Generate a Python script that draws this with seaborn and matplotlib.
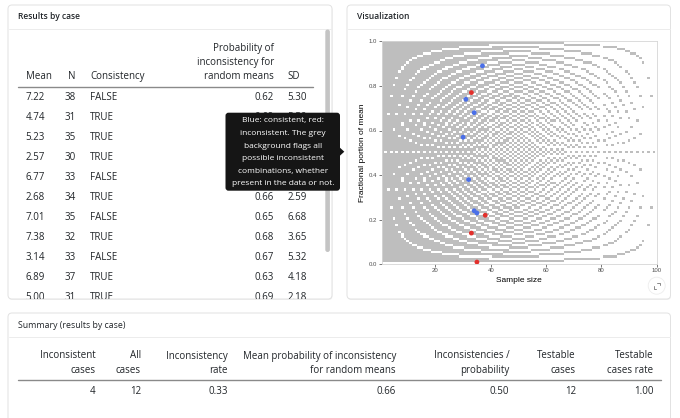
import numpy as np
import pandas as pd
import matplotlib
matplotlib.use("Agg")
import matplotlib.pyplot as plt
import seaborn as sns
from matplotlib.patches import FancyBboxPatch, Polygon, Circle
from matplotlib.colors import ListedColormap

# Results by case (last row scrolled out of view; SD under tooltip estimated)
means = ["7.22", "4.74", "5.23", "2.57", "6.77", "2.68", "7.01", "7.38", "3.14", "6.89", "5.00", "4.24"]
sizes = [38, 31, 35, 30, 33, 34, 35, 32, 33, 37, 31, 34]
consistency = [False, True, True, True, False, True, False, True, False, True, True, True]
probabilities = ["0.62", "0.69", "0.65", "0.70", "0.67", "0.66", "0.65", "0.68", "0.67", "0.63", "0.69", "0.66"]
sds = ["5.30", "5.50", "3.10", "2.40", "6.20", "2.59", "6.68", "3.65", "5.32", "4.18", "2.18", "3.00"]

# Summary (results by case)
summary_headers = [("Inconsistent", "cases"), ("All", "cases"), ("Inconsistency", "rate"),
                   ("Mean probability of inconsistency", "for random means"),
                   ("Inconsistencies /", "probability"), ("Testable", "cases"),
                   ("Testable", "cases rate")]
summary_values = ["4", "12", "0.33", "0.66", "0.50", "12", "1.00"]

tooltip_lines = ["Blue: consistent, red:", "inconsistent. The grey", "background flags all",
                 "possible inconsistent", "combinations, whether", "present in the data or not."]

df = pd.DataFrame({"mean": means, "n": sizes, "consistency": consistency})
df["frac"] = [round(float(m) - int(float(m)), 2) for m in df["mean"]]
# whole-number means sit on the panel edge and don't show up in the reference
plot_df = df[df["frac"] > 0]

# GRIM background: 1 = inconsistent combination of sample size and 2-decimal fraction
n_values = np.arange(1, 100)
grid = np.ones((100, len(n_values)))
for i, n in enumerate(n_values):
    for j in range(n + 1):
        lo, rem = divmod(100 * j, n)
        if 2 * rem > n:
            ks = [lo + 1]
        elif 2 * rem < n:
            ks = [lo]
        else:
            ks = [lo, lo + 1]
        for k in ks:
            grid[k % 100, i] = 0

sns.set_theme(style="white")
plt.rcParams["font.family"] = ["Open Sans", "DejaVu Sans"]

W, H = 680, 418
fig = plt.figure(figsize=(W / 100, H / 100), dpi=100)
fig.patch.set_facecolor("white")

txt = "#212529"
ui = dict(family=["Open Sans", "DejaVu Sans"], color=txt)

# page / cards in pixel coordinates
bg = fig.add_axes([0, 0, 1, 1])
bg.set_xlim(0, W)
bg.set_ylim(H, 0)
bg.axis("off")


def card(x0, y0, x1, y1, sep):
    bg.add_patch(FancyBboxPatch((x0 + 0.5, y0 + 1), x1 - x0, y1 - y0,
                                boxstyle="round,pad=0,rounding_size=4",
                                fc="#f0f0f0", ec="none", zorder=1))
    bg.add_patch(FancyBboxPatch((x0, y0), x1 - x0, y1 - y0,
                                boxstyle="round,pad=0,rounding_size=4",
                                fc="white", ec="#e2e2e2", lw=0.7, zorder=2))
    bg.plot([x0 + 0.5, x1 - 0.5], [sep, sep], color="#ececec", lw=0.7, zorder=3)


card(8, 5, 332, 299, 28.5)
card(347, 5, 670.5, 299, 28.5)
card(8, 313, 670.5, 440, 336.5)

bg.text(18.3, 16.7, "Results by case", fontsize=6.1, weight="semibold", va="center", **ui)
bg.text(357, 16.7, "Visualization", fontsize=6.1, weight="semibold", va="center", **ui)
bg.text(18.3, 325, "Summary (results by case)", fontsize=6.3, va="center", **ui)

# scrollbar
bg.add_patch(FancyBboxPatch((325.3, 29.5), 4.6, 222.5, boxstyle="round,pad=0,rounding_size=2.3",
                            fc="#c4c4c4", ec="none", zorder=4))

# summary table
sum_right = [95.5, 141, 227.7, 396, 509.5, 576, 653.5]
for xr, (h1, h2), v in zip(sum_right, summary_headers, summary_values):
    bg.text(xr, 356, h1, fontsize=7, ha="right", va="center", **ui)
    bg.text(xr, 370.7, h2, fontsize=7, ha="right", va="center", **ui)
    bg.text(xr, 391, v, fontsize=7, ha="right", va="center", **ui)
bg.plot([18.3, 661], [380, 380], color="#8a8a8a", lw=1.0, zorder=3)

# results table (clipped to the card body)
tb = fig.add_axes([9 / W, (H - 298.5) / H, 315 / W, 269.5 / H])
tb.set_xlim(9, 324)
tb.set_ylim(298.5, 29)
tb.axis("off")
tb.patch.set_alpha(0)

tb.text(25.7, 76.7, "Mean", fontsize=7, va="center", clip_on=True, **ui)
tb.text(75.5, 76.7, "N", fontsize=7, ha="right", va="center", clip_on=True, **ui)
tb.text(90, 76.7, "Consistency", fontsize=7, va="center", clip_on=True, **ui)
for yy, line in zip([48.3, 62.3, 76.7], ["Probability of", "inconsistency for", "random means"]):
    tb.text(274, yy, line, fontsize=7, ha="right", va="center", clip_on=True, **ui)
tb.text(287.5, 76.7, "SD", fontsize=7, va="center", clip_on=True, **ui)
tb.plot([18.3, 313.3], [86.7, 86.7], color="#8a8a8a", lw=1.0)

for r in range(len(means)):
    yy = 97.3 + 20 * r
    tb.text(25.7, yy, means[r], fontsize=7, va="center", clip_on=True, **ui)
    tb.text(75.5, yy, str(sizes[r]), fontsize=7, ha="right", va="center", clip_on=True, **ui)
    tb.text(90, yy, str(consistency[r]).upper(), fontsize=7, va="center", clip_on=True, **ui)
    tb.text(274, yy, probabilities[r], fontsize=7, ha="right", va="center", clip_on=True, **ui)
    tb.text(287.5, yy, sds[r], fontsize=7, va="center", clip_on=True, **ui)

# GRIM plot
x0, x1, y0, y1 = 381.5, 657, 41.3, 264.3
ax = fig.add_axes([x0 / W, (H - y1) / H, (x1 - x0) / W, (y1 - y0) / H])
ax.pcolormesh(np.arange(0.5, 100.5, 1), np.linspace(0, 1, 101), grid,
              cmap=ListedColormap(["white", "#bebebe"]), vmin=0, vmax=1,
              shading="flat", edgecolors="none", antialiased=False)
sns.scatterplot(data=plot_df, x="n", y="frac", hue="consistency",
                palette={True: "#4a6fe8", False: "#e2302c"},
                s=12, linewidth=0, legend=False, ax=ax, zorder=3)
ax.set_xlim(0.5, 100.1)
ax.set_ylim(0, 1)
ax.set_xticks([20, 40, 60, 80, 100])
ax.set_yticks([0, 0.2, 0.4, 0.6, 0.8, 1.0])
ax.set_yticklabels(["0.0", "0.2", "0.4", "0.6", "0.8", "1.0"])
ax.tick_params(length=2, width=0.5, color="#444444", pad=1, labelsize=4.3,
               labelcolor="#4d4d4d", bottom=True, left=True)
for lab in ax.get_xticklabels() + ax.get_yticklabels():
    lab.set_family(["Liberation Sans", "DejaVu Sans"])
for sp in ax.spines.values():
    sp.set_color("#d6d6d6")
    sp.set_linewidth(0.6)
ax.set_xlabel("Sample size", fontsize=6, family=["Liberation Sans", "DejaVu Sans"], color="black")
ax.set_ylabel("Fractional portion of mean", fontsize=6, family=["Liberation Sans", "DejaVu Sans"],
              color="black")
ax.xaxis.set_label_coords(0.5, (y1 - 281) / (y1 - y0))
ax.xaxis.label.set_va("center")
ax.yaxis.set_label_coords((362.7 - x0) / (x1 - x0), 0.5)
ax.yaxis.label.set_va("center")

# overlay: tooltip and expand icon
ov = fig.add_axes([0, 0, 1, 1])
ov.set_xlim(0, W)
ov.set_ylim(H, 0)
ov.axis("off")
ov.patch.set_alpha(0)
ov.add_patch(FancyBboxPatch((225.5, 112.7), 114.5, 78, boxstyle="round,pad=0,rounding_size=3",
                            fc="#151515", ec="none"))
ov.add_patch(Polygon([(339.5, 147.3), (344.3, 151.7), (339.5, 156.1)], closed=True,
                     fc="#151515", ec="none"))
for k, line in enumerate(tooltip_lines):
    ov.text(283, 120.7 + 12.65 * k, line, fontsize=6, ha="center", va="center",
            family=["Open Sans", "DejaVu Sans"], color="white")

ov.add_patch(Circle((656.7, 285.7), 8.5, fc="white", ec="#ededed", lw=0.6))
ov.plot([657.2, 659.8, 659.8], [282.6, 282.6, 285.2], color="#8a8a8a", lw=0.7)
ov.plot([653.6, 653.6, 656.2], [286.2, 288.8, 288.8], color="#8a8a8a", lw=0.7)

fig.savefig("out.png", dpi=100)
